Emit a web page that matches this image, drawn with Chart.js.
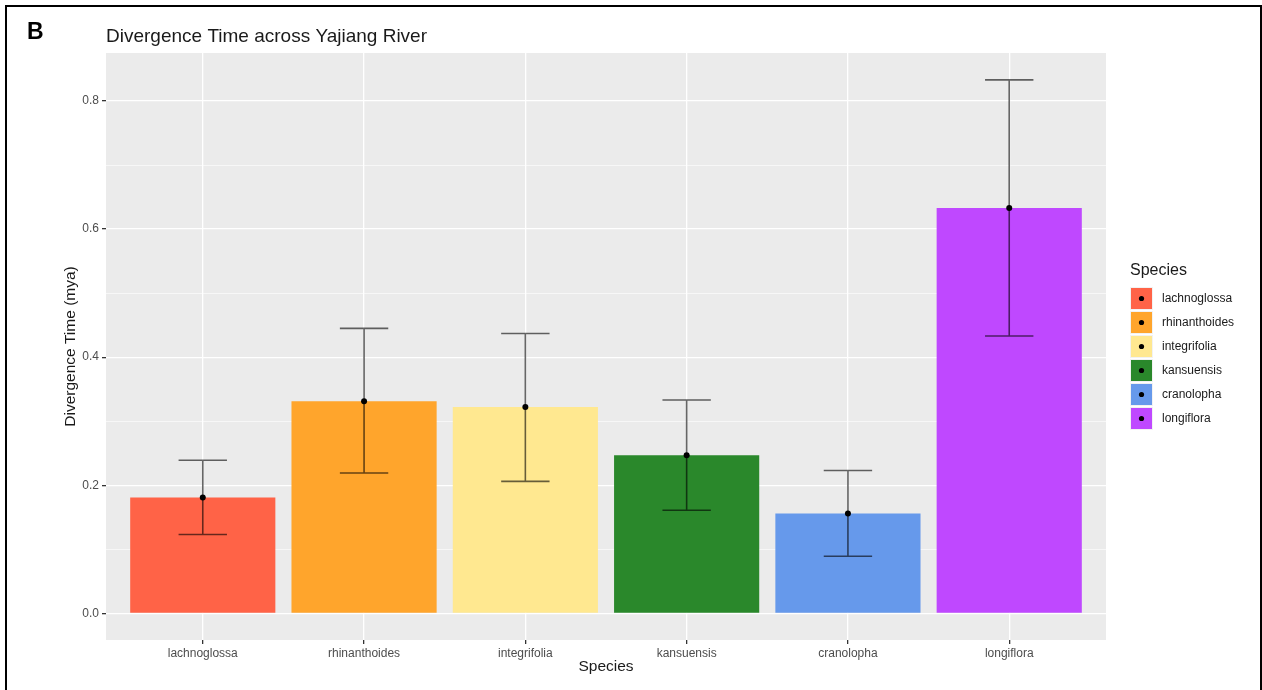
<!DOCTYPE html>
<html>
<head>
<meta charset="utf-8">
<script src="https://cdn.jsdelivr.net/npm/chart.js@4/dist/chart.umd.min.js"></script>
<style>
  html, body { margin: 0; padding: 0; background: #fff; }
  #wrap { position: relative; width: 1262px; height: 690px; }
</style>
</head>
<body>
<div id="wrap"><canvas id="divChart" width="1262" height="690"></canvas></div>
<script>
const species = ['lachnoglossa', 'rhinanthoides', 'integrifolia', 'kansuensis', 'cranolopha', 'longiflora'];
const divTime = [0.181, 0.331, 0.322, 0.247, 0.156, 0.633];
const lowerCI = [0.123, 0.219, 0.206, 0.161, 0.089, 0.433];
const upperCI = [0.239, 0.445, 0.437, 0.333, 0.223, 0.833];
const barColors = ['#FF6347', '#FFA52C', '#FFE890', '#2A882B', '#6699EB', '#BF48FF'];
const yTicks = [0, 0.1, 0.2, 0.3, 0.4, 0.5, 0.6, 0.7, 0.8];

const FONT = '"Liberation Sans", Arial, Helvetica, sans-serif';

function isMajor(v) {
    return Math.abs(Math.round(v * 10) % 2) === 0;
}

// grey panel, title, tag, frame, error bars and legend
const ggPlugin = {
    id: 'ggStyle',
    beforeDraw(chart) {
        const { ctx, chartArea: a } = chart;
        ctx.save();
        ctx.fillStyle = '#EBEBEB';
        ctx.fillRect(a.left, a.top, a.right - a.left, a.bottom - a.top);
        ctx.restore();
    },
    afterDatasetsDraw(chart) {
        const ctx = chart.ctx;
        const x = chart.scales.x, y = chart.scales.y;
        const half = x.getPixelForValue(0.15) - x.getPixelForValue(0);
        ctx.save();
        ctx.strokeStyle = 'rgba(0,0,0,0.6)';
        ctx.lineWidth = 1.6;
        species.forEach((s, i) => {
            const cx = x.getPixelForValue(i);
            const yl = y.getPixelForValue(lowerCI[i]);
            const yu = y.getPixelForValue(upperCI[i]);
            ctx.beginPath();
            ctx.moveTo(cx, yl); ctx.lineTo(cx, yu);
            ctx.moveTo(cx - half, yl); ctx.lineTo(cx + half, yl);
            ctx.moveTo(cx - half, yu); ctx.lineTo(cx + half, yu);
            ctx.stroke();
        });
        ctx.restore();
    },
    afterDraw(chart) {
        const ctx = chart.ctx;
        ctx.save();
        // frame
        ctx.strokeStyle = '#000';
        ctx.lineWidth = 2;
        ctx.strokeRect(6, 6, 1255, 700);
        // tag + title
        ctx.fillStyle = '#000';
        ctx.font = 'bold 23px ' + FONT;
        ctx.textBaseline = 'middle';
        ctx.fillText('B', 27, 33);
        ctx.fillStyle = '#1a1a1a';
        ctx.font = '19px ' + FONT;
        ctx.fillText('Divergence Time across Yajiang River', 106, 37);
        // legend
        ctx.font = '16px ' + FONT;
        ctx.fillStyle = '#1a1a1a';
        ctx.fillText('Species', 1130, 271);
        ctx.font = '12px ' + FONT;
        species.forEach((s, i) => {
            const top = 287 + i * 24;
            ctx.fillStyle = '#F2F2F2';
            ctx.fillRect(1130, top, 23, 23);
            ctx.fillStyle = barColors[i];
            ctx.fillRect(1131, top + 1, 21, 21);
            ctx.fillStyle = '#000';
            ctx.beginPath();
            ctx.arc(1141.5, top + 11.5, 2.6, 0, Math.PI * 2);
            ctx.fill();
            ctx.fillStyle = '#1a1a1a';
            ctx.fillText(s, 1162, top + 12);
        });
        ctx.restore();
    }
};

new Chart(document.getElementById('divChart'), {
    type: 'bar',
    data: {
        datasets: [
            {
                type: 'line',
                label: 'mean',
                data: species.map((s, i) => ({ x: i, y: divTime[i] })),
                showLine: false,
                pointRadius: 3,
                pointHoverRadius: 3,
                pointBackgroundColor: '#000',
                pointBorderWidth: 0,
                order: 0
            },
            {
                type: 'bar',
                label: 'Species',
                data: species.map((s, i) => ({ x: i, y: divTime[i] })),
                backgroundColor: barColors,
                categoryPercentage: 0.9,
                barPercentage: 1.0,
                order: 1
            }
        ]
    },
    options: {
        responsive: false,
        animation: false,
        events: [],
        layout: { padding: { left: 0, top: 53, right: 156, bottom: 0 } },
        plugins: {
            legend: { display: false },
            title: { display: false },
            tooltip: { enabled: false }
        },
        scales: {
            x: {
                type: 'linear',
                offset: false,
                min: -0.6,
                max: 5.6,
                afterFit: s => { s.height = 50; },
                afterBuildTicks: s => { s.ticks = species.map((n, i) => ({ value: i })); },
                grid: {
                    offset: false,
                    color: '#FFFFFF',
                    lineWidth: 1.3,
                    tickColor: '#333333',
                    tickLength: 4,
                    drawTicks: true
                },
                border: { display: false },
                ticks: {
                    color: '#4D4D4D',
                    font: { family: FONT, size: 12 },
                    padding: 2,
                    maxRotation: 0,
                    autoSkip: false,
                    callback: v => species[v]
                },
                title: {
                    display: true,
                    text: 'Species',
                    color: '#1a1a1a',
                    font: { family: FONT, size: 15.5 },
                    padding: { top: 0, bottom: 14 }
                }
            },
            y: {
                min: -0.0417,
                max: 0.875,
                afterFit: s => { s.width = 106; },
                afterBuildTicks: s => { s.ticks = yTicks.map(v => ({ value: v })); },
                grid: {
                    color: '#FFFFFF',
                    lineWidth: c => isMajor(c.tick.value) ? 1.3 : 0.6,
                    tickColor: c => isMajor(c.tick.value) ? '#333333' : 'rgba(0,0,0,0)',
                    tickLength: 4
                },
                border: { display: false },
                ticks: {
                    color: '#4D4D4D',
                    font: { family: FONT, size: 12 },
                    padding: 3,
                    callback: v => isMajor(v) ? v.toFixed(1) : ''
                },
                title: {
                    display: true,
                    text: 'Divergence Time (mya)',
                    color: '#1a1a1a',
                    font: { family: FONT, size: 15.5 },
                    padding: { top: 61, bottom: 0 }
                }
            }
        }
    },
    plugins: [ggPlugin]
});
</script>
</body>
</html>
